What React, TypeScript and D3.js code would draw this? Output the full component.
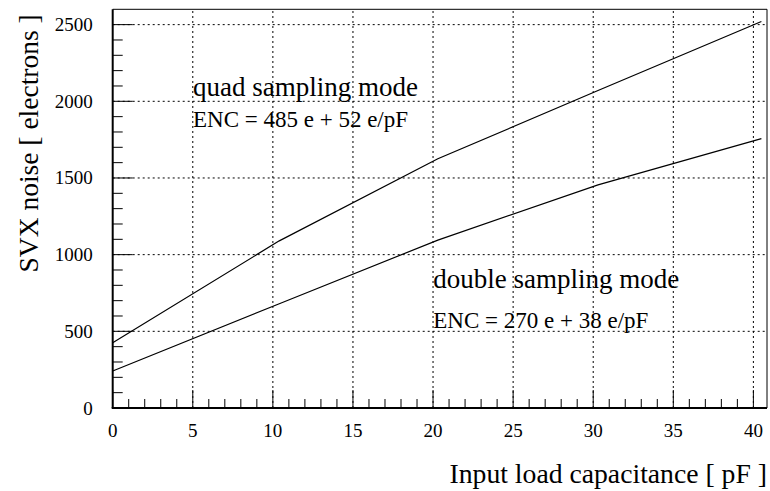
import React from "react";
import * as d3 from "d3";

const capacitance = [0, 10.4, 20.3, 30.3, 40.5];
const quadNoise = [425, 1090, 1625, 2070, 2520];
const doubleNoise = [241, 680, 1095, 1455, 1757];
const xMajorTicks = [0, 5, 10, 15, 20, 25, 30, 35, 40];
const yMajorTicks = [0, 500, 1000, 1500, 2000, 2500];

const W = 770;
const H = 491;
const left = 112.7;
const right = 767;
const top = 9.3;
const bottom = 408;
const font = "'Liberation Serif', 'Times New Roman', serif";

export default function App() {
  const x = d3.scaleLinear().domain([0, 40.85]).range([left, right]);
  const y = d3.scaleLinear().domain([0, 2600]).range([bottom, top]);
  const xMinor = d3.range(0, 41, 1).filter((v) => v % 5 !== 0);
  const yMinor = d3.range(0, 2600, 100).filter((v) => v % 500 !== 0);
  const line = d3
    .line<[number, number]>()
    .x((d) => x(d[0]))
    .y((d) => y(d[1]));
  const quadPts = capacitance.map((c, i) => [c, quadNoise[i]] as [number, number]);
  const dblPts = capacitance.map((c, i) => [c, doubleNoise[i]] as [number, number]);

  return (
    <svg
      width={W}
      height={H}
      style={{ position: "absolute", left: 0, top: 0, background: "#fff" }}
      fontFamily={font}
    >
      <rect x={0} y={0} width={W} height={H} fill="#fff" />
      {/* grid */}
      <g stroke="#000" strokeWidth={1} strokeDasharray="2,3">
        {xMajorTicks.filter((v) => v > 0).map((v) => (
          <line key={"gx" + v} x1={x(v)} x2={x(v)} y1={bottom} y2={top} />
        ))}
        {yMajorTicks.filter((v) => v > 0).map((v) => (
          <line key={"gy" + v} x1={left} x2={right} y1={y(v)} y2={y(v)} />
        ))}
      </g>
      {/* frame */}
      <line x1={left} x2={right} y1={top} y2={top} stroke="#000" strokeWidth={1} />
      <line x1={right} x2={right} y1={top} y2={bottom} stroke="#000" strokeWidth={1} />
      <line x1={left} x2={left} y1={top} y2={bottom} stroke="#000" strokeWidth={2} />
      <line x1={left - 1} x2={right} y1={bottom} y2={bottom} stroke="#000" strokeWidth={2} />
      {/* ticks */}
      <g stroke="#000" strokeWidth={1}>
        {xMajorTicks.map((v) => (
          <line key={"xt" + v} x1={x(v)} x2={x(v)} y1={bottom} y2={bottom - 18} />
        ))}
        {xMinor.map((v) => (
          <line key={"xm" + v} x1={x(v)} x2={x(v)} y1={bottom} y2={bottom - 9} />
        ))}
        {yMajorTicks.map((v) => (
          <line key={"yt" + v} x1={left} x2={left + 20} y1={y(v)} y2={y(v)} />
        ))}
        {yMinor.map((v) => (
          <line key={"ym" + v} x1={left} x2={left + 10} y1={y(v)} y2={y(v)} />
        ))}
      </g>
      {/* tick labels */}
      <g fontSize={19} fill="#000">
        {xMajorTicks.map((v) => (
          <text key={"xl" + v} x={x(v)} y={436.7} textAnchor="middle">
            {v}
          </text>
        ))}
        {yMajorTicks.map((v) => (
          <text key={"yl" + v} x={92.7} y={y(v) + 6.5} textAnchor="end">
            {v}
          </text>
        ))}
      </g>
      {/* data lines */}
      <path d={line(quadPts) || ""} fill="none" stroke="#000" strokeWidth={1.2} />
      <path d={line(dblPts) || ""} fill="none" stroke="#000" strokeWidth={1.2} />
      {/* annotations */}
      <text x={193} y={96} fontSize={27}>quad sampling mode</text>
      <text x={193} y={127.3} fontSize={23}>ENC = 485 e + 52 e/pF</text>
      <text x={433.3} y={288.3} fontSize={27}>double sampling mode</text>
      <text x={433.3} y={328.3} fontSize={23}>ENC = 270 e + 38 e/pF</text>
      {/* axis titles */}
      <text x={767} y={483.3} fontSize={27.7} textAnchor="end">
        Input load capacitance [ pF ]
      </text>
      <text
        transform={`translate(38,${top + 5}) rotate(-90)`}
        fontSize={27.5}
        textAnchor="end"
      >
        SVX noise [ electrons ]
      </text>
    </svg>
  );
}
